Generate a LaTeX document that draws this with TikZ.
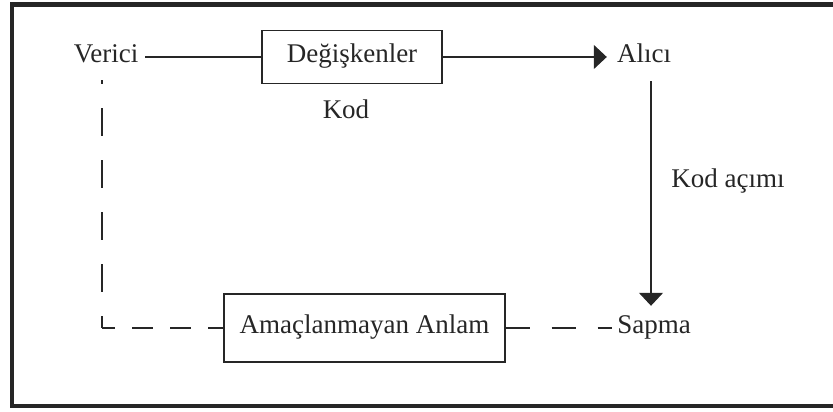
\documentclass[tikz,border=0pt]{standalone}
\usepackage{fontspec}
\setmainfont{Liberation Serif}
\usetikzlibrary{arrows.meta}
\definecolor{ink}{HTML}{262626}
\begin{document}
\begin{tikzpicture}[x=1pt,y=1pt,
  every node/.style={font=\fontsize{27}{30}\selectfont, text=ink, text height=19pt, text depth=7pt},
  boxnode/.style={draw=ink, line width=1.2pt, inner sep=0pt},
  conn/.style={draw=ink, line width=1.2pt},
  tip/.style={-{Triangle[length=13pt,width=24pt]}}
]
\useasboundingbox (0,0) rectangle (833,412);
\draw[line width=4.5pt, draw=ink] (12,6) rectangle (850,407.5);

\node[inner xsep=7pt, inner ysep=10pt] (Verici) at (106,355) {Verici};
\node[boxnode, minimum width=180pt, minimum height=53pt] (Deg) at (352,355) {Değişkenler};
\node[inner xsep=10pt, inner ysep=11pt] (Alici) at (644,355) {Alıcı};
\node (Kod) at (346,299) {Kod};
\node (Kodacimi) at (728,230) {Kod açımı};
\node[inner xsep=5pt, inner ysep=9pt] (Sapma) at (654,84) {Sapma};
\node[boxnode, minimum width=281pt, minimum height=68pt] (Amac) at (364.5,84) {Amaçlanmayan Anlam};
\coordinate (corner) at (102,84);

\draw[conn] (Verici.east) -- (Deg.west);
\draw[conn,tip] (Deg.east) -- (Alici.west);
\draw[conn,tip] ([xshift=7pt]Alici.south) -- ([xshift=-3pt]Sapma.north);
\draw[conn, dash pattern=on 28pt off 24pt, dash phase=16pt] (corner) -- (corner |- Verici.south);
\draw[conn, dash pattern=on 21pt off 17pt, dash phase=8pt] (corner) -- (Amac.west);
\draw[conn, dash pattern=on 24pt off 22pt] (Amac.east) -- (Sapma.west);
\end{tikzpicture}
\end{document}
